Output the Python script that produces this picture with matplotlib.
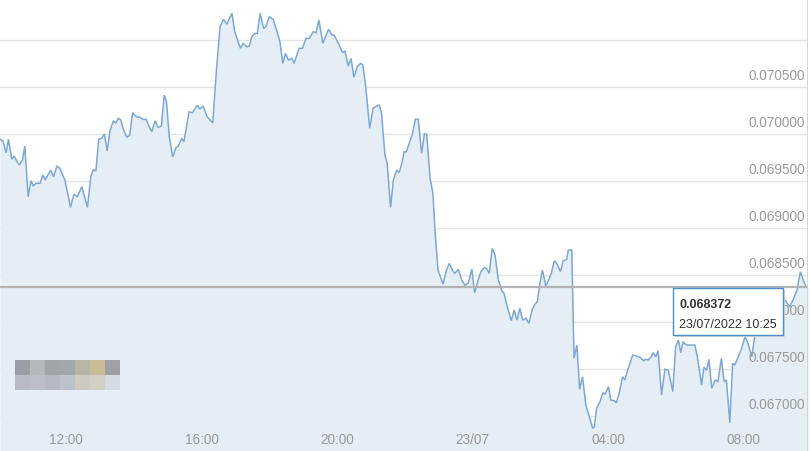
import matplotlib
matplotlib.use("Agg")
import matplotlib.pyplot as plt
import matplotlib.transforms as mtransforms
from matplotlib.patches import Rectangle
import numpy as np

plt.rcParams['font.family'] = ['Liberation Sans', 'DejaVu Sans']

# ---- data ----
start_label = "22/07/2022 10:00"
minutes_after_start = [
    3, 8, 14, 18, 24, 28, 37, 43, 47, 53, 58, 62, 67, 74, 79, 83, 93, 98, 104, 109,
    118, 128, 134, 140, 148, 158, 164, 168, 173, 178, 183, 188, 193, 198, 204, 208, 213, 217, 222, 228,
    233, 238, 245, 251, 256, 262, 266, 272, 278, 283, 289, 294, 298, 303, 309, 315, 319, 325, 329, 338,
    344, 353, 357, 363, 370, 378, 380, 387, 393, 399, 405, 414, 419, 429, 434, 440, 445, 449, 455, 459,
    464, 470, 474, 480, 487, 494, 499, 504, 509, 514, 520, 524, 533, 539, 545, 551, 558, 563, 568, 575,
    585, 591, 595, 604, 610, 614, 620, 625, 630, 636, 642, 646, 651, 658, 664, 670, 675, 679, 685, 689,
    695, 700, 706, 710, 715, 719, 723, 729, 734, 739, 744, 750, 755, 759, 765, 770, 774, 779, 788, 794,
    799, 805, 809, 815, 821, 827, 833, 839, 844, 850, 855, 861, 865, 870, 875, 880, 886, 892, 896, 902,
    909, 914, 919, 924, 929, 935, 940, 946, 951, 955, 960, 964, 970, 975, 980, 985, 990, 996, 1001, 1007,
    1010, 1016, 1020, 1025, 1030, 1035, 1041, 1047, 1053, 1056, 1060, 1066, 1071, 1075, 1081, 1085, 1091, 1095, 1100, 1106,
    1110, 1116, 1124, 1131, 1137, 1143, 1147, 1151, 1157, 1160, 1165, 1169, 1175, 1181, 1187, 1195, 1200, 1205, 1209, 1213,
    1219, 1228, 1234, 1238, 1246, 1250, 1255, 1259, 1264, 1270, 1275, 1281, 1286, 1290, 1296, 1301, 1305, 1311, 1317, 1323,
    1328, 1335, 1340, 1349, 1367, 1394, 1402, 1408, 1415, 1421, 1426, 1431, 1435,
]
prices = [
    0.069944, 0.069929, 0.069801, 0.069944, 0.069731, 0.069766, 0.069670, 0.069723, 0.069872, 0.069333,
    0.069503, 0.069447, 0.069476, 0.069476, 0.069564, 0.069511, 0.069617, 0.069546, 0.069660, 0.069635,
    0.069511, 0.069220, 0.069359, 0.069333, 0.069439, 0.069220, 0.069546, 0.069617, 0.069610, 0.069944,
    0.069954, 0.070000, 0.069822, 0.070035, 0.070141, 0.070114, 0.070167, 0.070149, 0.070043, 0.069965,
    0.069989, 0.070227, 0.070184, 0.070178, 0.070156, 0.070156, 0.070096, 0.070024, 0.070141, 0.070071,
    0.070085, 0.070415, 0.070344, 0.069971, 0.069758, 0.069858, 0.069872, 0.069954, 0.069918, 0.070237,
    0.070227, 0.070308, 0.070265, 0.070298, 0.070184, 0.070131, 0.070120, 0.070716, 0.071141, 0.071220,
    0.071170, 0.071284, 0.071088, 0.070912, 0.070965, 0.070929, 0.070936, 0.071035, 0.071071, 0.071071,
    0.071284, 0.071124, 0.071141, 0.071248, 0.071220, 0.071088, 0.070982, 0.070752, 0.070858, 0.070787,
    0.070805, 0.070752, 0.070912, 0.070912, 0.071018, 0.071018, 0.071088, 0.071078, 0.071213, 0.070965,
    0.071114, 0.071053, 0.071053, 0.070947, 0.070865, 0.070886, 0.070723, 0.070805, 0.070603, 0.070716,
    0.070752, 0.070734, 0.070503, 0.070061, 0.070273, 0.070298, 0.070308, 0.070220, 0.069777, 0.069688,
    0.069220, 0.069511, 0.069617, 0.069588, 0.069688, 0.069812, 0.069812, 0.069918, 0.070007, 0.070160,
    0.070156, 0.069795, 0.070000, 0.070000, 0.069529, 0.069369, 0.068944, 0.068553, 0.068404, 0.068553,
    0.068624, 0.068546, 0.068518, 0.068561, 0.068447, 0.068390, 0.068418, 0.068561, 0.068312, 0.068447,
    0.068535, 0.068578, 0.068571, 0.068518, 0.068784, 0.068713, 0.068447, 0.068333, 0.068305, 0.068156,
    0.068014, 0.068128, 0.068021, 0.068146, 0.068021, 0.068039, 0.067986, 0.068135, 0.068192, 0.068216,
    0.068429, 0.068553, 0.068383, 0.068447, 0.068524, 0.068652, 0.068617, 0.068535, 0.068652, 0.068667,
    0.068766, 0.068766, 0.067614, 0.067755, 0.067284, 0.067418, 0.067117, 0.066993, 0.066869, 0.066886,
    0.067082, 0.067152, 0.067248, 0.067234, 0.067312, 0.067170, 0.067163, 0.067142, 0.067242, 0.067418,
    0.067383, 0.067508, 0.067649, 0.067638, 0.067625, 0.067588, 0.067603, 0.067596, 0.067631, 0.067673,
    0.067631, 0.067695, 0.067223, 0.067497, 0.067489, 0.067259, 0.067737, 0.067809, 0.067673, 0.067790,
    0.067755, 0.067755, 0.067755, 0.067649, 0.067330, 0.067518, 0.067489, 0.067603, 0.067295, 0.067383,
    0.067365, 0.067614, 0.067365, 0.067383, 0.066929, 0.067561, 0.067543, 0.067631, 0.067720, 0.067844,
    0.067777, 0.067631, 0.067844, 0.067957, 0.068043, 0.068234, 0.068163, 0.068234, 0.068340, 0.068535,
    0.068447, 0.068376, 0.068372,
]
y_tick_values = [0.067000, 0.067500, 0.068000, 0.068500, 0.069000, 0.069500, 0.070000, 0.070500]
y_grid_values = y_tick_values + [0.071000]
x_tick_minutes = [120, 360, 600, 840, 1080, 1320]
x_tick_labels = ["12:00", "16:00", "20:00", "23/07", "04:00", "08:00"]
tooltip_value = "0.068372"
tooltip_time = "23/07/2022 10:25"
current_price = 0.068372

W, H = 810, 451
fig = plt.figure(figsize=(W / 100, H / 100), dpi=100)
fig.patch.set_facecolor("white")
ax = fig.add_axes([0, 0, 808 / W, 1])
ax.set_facecolor("white")

x = np.array(minutes_after_start, dtype=float)
y = np.array(prices)

ymin, ymax = 0.066628, 0.071426
ax.set_ylim(ymin, ymax)
ax.set_xlim(3.1, 1434.5)

for gv in y_grid_values:
    ax.axhline(gv, color="#e4e4e4", lw=1.0, zorder=1)

ax.fill_between(x, y, ymin, color="#e6eef5", zorder=2, lw=0)
ax.plot(x, y, color="#7ea7d3", lw=1.1, zorder=3, solid_joinstyle="miter")

ax.axhline(current_price, color="#b4b4b4", lw=1.6, zorder=4)

# right border
ax.axvline(1434.5, color="#cfcfcf", lw=1.2, zorder=5)

for s in ax.spines.values():
    s.set_visible(False)
ax.set_xticks([])
ax.set_yticks([])

# y labels (inside plot, right side, above gridlines)
off = mtransforms.offset_copy(ax.transData, fig=fig, x=0, y=3, units="points")
blend_y = mtransforms.blended_transform_factory(ax.transAxes, ax.transData)
off_y = blend_y + mtransforms.ScaledTranslation(0, 3 / 72 * 1, fig.dpi_scale_trans)
for v in y_tick_values:
    ax.text(0.996, v, f"{v:.6f}", transform=off_y, ha="right", va="bottom",
            fontsize=9.8, color="#9a9a9a", zorder=6)

# x labels inside bottom
blend_x = mtransforms.blended_transform_factory(ax.transData, ax.transAxes)
for m, lab in zip(x_tick_minutes, x_tick_labels):
    ax.text(m, 1 - 440 / H, lab, transform=blend_x, ha="center", va="center",
            fontsize=9.8, color="#9a9a9a", zorder=6)

# pixelated logo block
logo = np.array([
    [[0x9a, 0x9f, 0xa5], [0xb3, 0xb8, 0xbd], [0xa0, 0xa5, 0xaa], [0xa2, 0xa7, 0xac],
     [0xb7, 0xb4, 0xa8], [0xc9, 0xbb, 0x95], [0x9c, 0xa0, 0xa4]],
    [[0xb6, 0xbc, 0xc2], [0xb9, 0xbf, 0xc5], [0xb4, 0xba, 0xc0], [0xbc, 0xc3, 0xc8],
     [0xcd, 0xcb, 0xc0], [0xd2, 0xcf, 0xc4], [0xd5, 0xdb, 0xe0]],
], dtype=float) / 255.0
lax = fig.add_axes([15 / W, 1 - 390 / H, 105 / W, 30 / H])
lax.imshow(logo, aspect="auto", interpolation="nearest")
lax.axis("off")

# tooltip
tx0, ty0, tx1, ty1 = 673, 288, 783, 335
shadow = Rectangle((tx0 + 2) / W * np.array([1]) if False else ((tx0 + 2) / W, 1 - (ty1 + 2) / H),
                   (tx1 - tx0) / W, (ty1 - ty0) / H, transform=fig.transFigure,
                   facecolor="#d8d8d8", edgecolor="none", zorder=10)
fig.patches.append(shadow)
box = Rectangle((tx0 / W, 1 - ty1 / H), (tx1 - tx0) / W, (ty1 - ty0) / H,
                transform=fig.transFigure, facecolor="white", edgecolor="#4a8fc9",
                lw=1.0, zorder=11)
fig.patches.append(box)
fig.text(679 / W, 1 - 305 / H, tooltip_value, ha="left", va="center",
         fontsize=9, fontweight="bold", color="#333333", zorder=12)
fig.text(679 / W, 1 - 325 / H, tooltip_time, ha="left", va="center",
         fontsize=9, color="#333333", zorder=12)

fig.savefig("out.png", dpi=100)
